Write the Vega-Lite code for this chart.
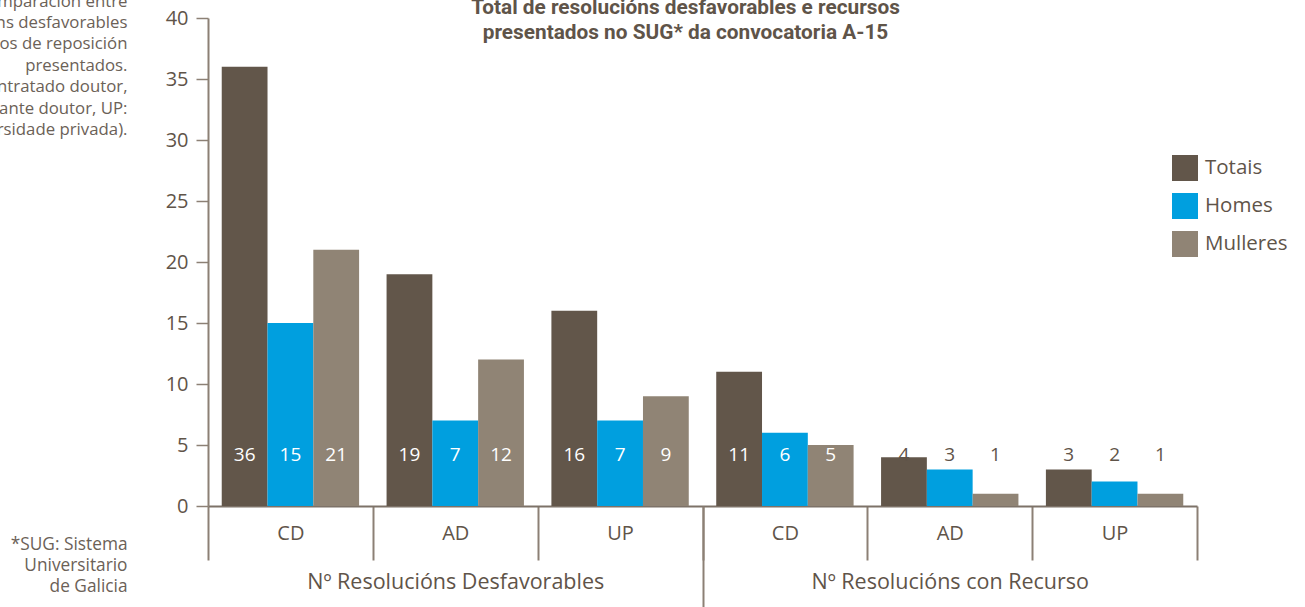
{
  "$schema": "https://vega.github.io/schema/vega-lite/v6.json",
  "autosize": "none",
  "width": 989,
  "height": 488,
  "padding": {"left": 208, "top": 18, "right": 108, "bottom": 101},
  "background": "white",
  "config": {
    "font": "Open Sans",
    "view": {"stroke": null},
    "axis": {"labelFont": "Open Sans", "titleFont": "Open Sans", "grid": false},
    "legend": {"labelFont": "Open Sans"}
  },
  "title": {
    "text": ["Total de resolucións desfavorables e recursos", "presentados no SUG* da convocatoria A-15"],
    "font": "Roboto",
    "fontSize": 20.8,
    "fontWeight": "bold",
    "color": "#5f5449",
    "anchor": "middle",
    "baseline": "bottom",
    "lineHeight": 25,
    "offset": -71,
    "dx": -17
  },
  "data": {
    "values": [
      {"outer": "Nº Resolucións Desfavorables", "grp": "D-CD", "serie": "Totais", "valor": 36},
      {"outer": "Nº Resolucións Desfavorables", "grp": "D-CD", "serie": "Homes", "valor": 15},
      {"outer": "Nº Resolucións Desfavorables", "grp": "D-CD", "serie": "Mulleres", "valor": 21},
      {"outer": "Nº Resolucións Desfavorables", "grp": "D-AD", "serie": "Totais", "valor": 19},
      {"outer": "Nº Resolucións Desfavorables", "grp": "D-AD", "serie": "Homes", "valor": 7},
      {"outer": "Nº Resolucións Desfavorables", "grp": "D-AD", "serie": "Mulleres", "valor": 12},
      {"outer": "Nº Resolucións Desfavorables", "grp": "D-UP", "serie": "Totais", "valor": 16},
      {"outer": "Nº Resolucións Desfavorables", "grp": "D-UP", "serie": "Homes", "valor": 7},
      {"outer": "Nº Resolucións Desfavorables", "grp": "D-UP", "serie": "Mulleres", "valor": 9},
      {"outer": "Nº Resolucións con Recurso", "grp": "R-CD", "serie": "Totais", "valor": 11},
      {"outer": "Nº Resolucións con Recurso", "grp": "R-CD", "serie": "Homes", "valor": 6},
      {"outer": "Nº Resolucións con Recurso", "grp": "R-CD", "serie": "Mulleres", "valor": 5},
      {"outer": "Nº Resolucións con Recurso", "grp": "R-AD", "serie": "Totais", "valor": 4},
      {"outer": "Nº Resolucións con Recurso", "grp": "R-AD", "serie": "Homes", "valor": 3},
      {"outer": "Nº Resolucións con Recurso", "grp": "R-AD", "serie": "Mulleres", "valor": 1},
      {"outer": "Nº Resolucións con Recurso", "grp": "R-UP", "serie": "Totais", "valor": 3},
      {"outer": "Nº Resolucións con Recurso", "grp": "R-UP", "serie": "Homes", "valor": 2},
      {"outer": "Nº Resolucións con Recurso", "grp": "R-UP", "serie": "Mulleres", "valor": 1}
    ]
  },
  "layer": [
    {
      "layer": [
        {
          "mark": {"type": "bar"},
          "encoding": {
            "x": {
              "field": "grp", "type": "nominal", "sort": null,
              "scale": {"paddingInner": 0, "paddingOuter": 0},
              "axis": {
                "title": ["*SUG: Sistema", "Universitario", "de Galicia"],
                "titleAngle": 0, "titleAlign": "right", "titleBaseline": "alphabetic",
                "titleX": -81, "titleY": 43, "titleFontSize": 17.3, "titleFontWeight": "normal",
                "titleColor": "#6b6157", "titleLineHeight": 21,
                "labelExpr": "split(datum.label, '-')[1]",
                "labelAngle": 0, "labelFontSize": 20, "labelColor": "#5f5449",
                "labelBaseline": "middle", "labelPadding": -27,
                "tickBand": "extent", "tickSize": 54, "tickColor": "#8c8075", "tickWidth": 2,
                "domainColor": "#7d7268", "domainWidth": 2
              }
            },
            "xOffset": {"field": "serie", "type": "nominal", "sort": ["Totais", "Homes", "Mulleres"], "scale": {"paddingInner": 0, "paddingOuter": 0.3}},
            "y": {
              "field": "valor", "type": "quantitative",
              "scale": {"domain": [0, 40], "nice": false},
              "axis": {
                "values": [0, 5, 10, 15, 20, 25, 30, 35, 40],
                "title": ["Gráfico 4. Comparación entre", "resolucións desfavorables", "e recursos de reposición", "presentados.", "(CD: contratado doutor,", "AD: axudante doutor, UP:", "universidade privada)."],
                "titleAngle": 0, "titleAlign": "right", "titleBaseline": "alphabetic",
                "titleX": -81, "titleY": -12, "titleFontSize": 16.8, "titleFontWeight": "normal",
                "titleColor": "#6b6157", "titleLineHeight": 21.4,
                "labelFontSize": 20, "labelColor": "#5f5449", "labelPadding": 8,
                "tickSize": 12, "tickColor": "#8c8075", "tickWidth": 1.5,
                "domainColor": "#8c8075", "domainWidth": 2
              }
            },
            "color": {
              "field": "serie", "type": "nominal",
              "scale": {"domain": ["Totais", "Homes", "Mulleres"], "range": ["#62564a", "#009fdf", "#908475"]},
              "legend": {
                "title": null, "orient": "none", "legendX": 964, "legendY": 137,
                "symbolType": "square", "symbolSize": 676, "symbolStrokeWidth": 0,
                "labelFontSize": 20.5, "labelColor": "#5f5449", "labelOffset": 7,
                "rowPadding": 12, "padding": 0
              }
            }
          }
        },
        {
          "mark": {"type": "text", "fontSize": 19, "baseline": "middle", "align": "center", "font": "Open Sans"},
          "encoding": {
            "x": {"field": "grp", "type": "nominal", "sort": null},
            "xOffset": {"field": "serie", "type": "nominal", "sort": ["Totais", "Homes", "Mulleres"]},
            "y": {"datum": 4.18, "type": "quantitative"},
            "text": {"field": "valor", "type": "quantitative"},
            "color": {"condition": {"test": "datum.valor >= 5", "value": "#ffffff"}, "value": "#5f5449"}
          }
        }
      ]
    },
    {
      "mark": {"type": "text", "opacity": 0},
      "encoding": {
        "x": {
          "field": "outer", "type": "nominal", "sort": null,
          "scale": {"paddingInner": 0, "paddingOuter": 0},
          "axis": {
            "orient": "bottom", "title": null, "domain": false,
            "labelAngle": 0, "labelFontSize": 21.5, "labelColor": "#5f5449", "labelLimit": 0,
            "labelBaseline": "middle", "labelPadding": -25,
            "tickBand": "extent", "tickSize": 101, "tickColor": "#8c8075", "tickWidth": 2,
            "tickOpacity": {"condition": {"test": "datum.value == 'Nº Resolucións Desfavorables' && !datum.extra", "value": 1}, "value": 0}
          }
        },
        "text": {"value": ""}
      }
    }
  ],
  "resolve": {"scale": {"x": "independent"}, "axis": {"x": "independent"}}
}
